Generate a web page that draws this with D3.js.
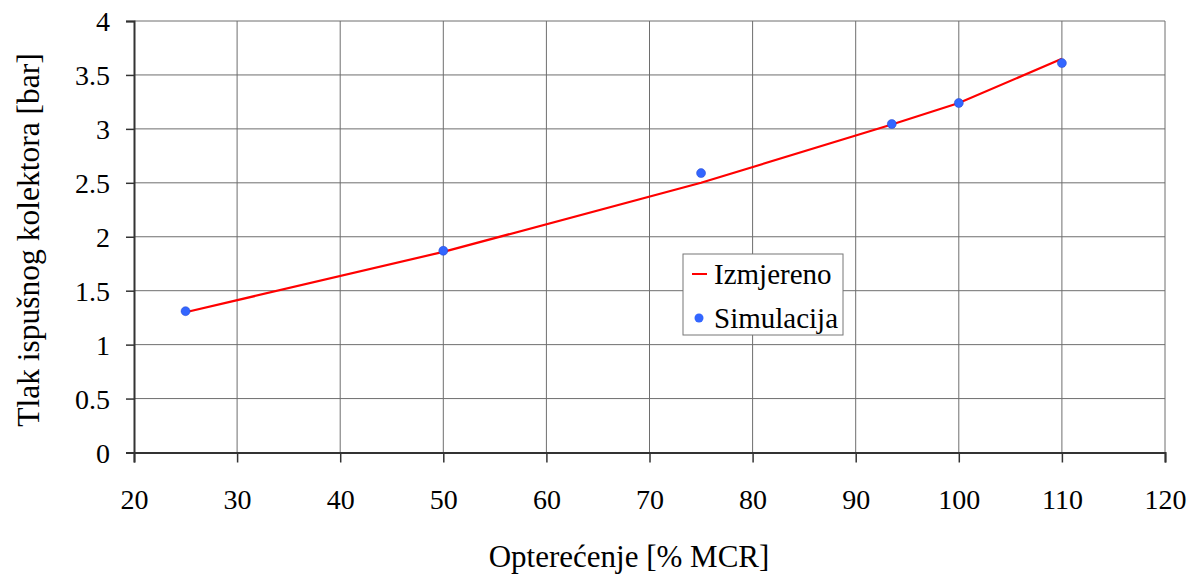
<!DOCTYPE html>
<html><head><meta charset="utf-8">
<script src="https://cdn.jsdelivr.net/npm/d3@7"></script>
<style>body{margin:0;background:#fff}svg{display:block}text{font-family:"Liberation Serif","Times New Roman",serif;fill:#000}</style>
</head><body><svg id="c" width="1197" height="577"></svg>
<script>
const measuredX = [25, 50, 75, 93.5, 100, 110];
const measuredY = [1.30, 1.86, 2.50, 3.04, 3.24, 3.65];
const simX = [25, 50, 75, 93.5, 100, 110];
const simY = [1.31, 1.87, 2.59, 3.045, 3.24, 3.61];
const xTicks = [20, 30, 40, 50, 60, 70, 80, 90, 100, 110, 120];
const yTicks = [0, 0.5, 1, 1.5, 2, 2.5, 3, 3.5, 4];
const seriesNames = ["Izmjereno", "Simulacija"];

const svg = d3.select("#c");
const FONT = '"Liberation Serif","Times New Roman",serif';
const L = 134, R = 1165, T = 21, B = 452.5;
const x = d3.scaleLinear().domain([20, 120]).range([L, R]);
const y = d3.scaleLinear().domain([0, 4]).range([B, T]);

// grid
svg.append("g").selectAll("line").data(xTicks.slice(1)).join("line")
  .attr("x1", d => x(d)).attr("x2", d => x(d)).attr("y1", T).attr("y2", B)
  .attr("stroke", "#6e6e6e").attr("stroke-width", 1);
svg.append("g").selectAll("line").data(yTicks.slice(1)).join("line")
  .attr("x1", L).attr("x2", R).attr("y1", d => y(d)).attr("y2", d => y(d))
  .attr("stroke", "#6e6e6e").attr("stroke-width", 1);

// axes
const xa = svg.append("g").attr("transform", `translate(0,${B})`)
  .call(d3.axisBottom(x).tickValues(xTicks).tickSize(10).tickPadding(27).tickFormat(d3.format("d")));
const ya = svg.append("g").attr("transform", `translate(${L},0)`)
  .call(d3.axisLeft(y).tickValues(yTicks).tickSize(8).tickPadding(16).tickFormat(d => String(d)));
[xa, ya].forEach(a => {
  a.attr("font-family", FONT).attr("font-size", 28);
  a.select(".domain").attr("stroke", "#333").attr("stroke-width", 2);
  a.selectAll(".tick line").attr("stroke", "#333").attr("stroke-width", 1.5);
  a.selectAll("text").attr("fill", "#000");
});
ya.selectAll("text").attr("dy", "0.34em");

// line
svg.append("path")
  .datum(measuredX.map((d, i) => [d, measuredY[i]]))
  .attr("fill", "none").attr("stroke", "#ff0000").attr("stroke-width", 2.2)
  .attr("d", d3.line().x(d => x(d[0])).y(d => y(d[1])));

// points
svg.append("g").selectAll("circle").data(simX.map((d, i) => [d, simY[i]])).join("circle")
  .attr("cx", d => x(d[0])).attr("cy", d => y(d[1])).attr("r", 4.5)
  .attr("fill", "#3366ff").attr("stroke", "#2244cc").attr("stroke-width", 0.5);

// axis titles
svg.append("text").attr("x", 629).attr("y", 567).attr("text-anchor", "middle")
  .style("font-size", "31px").text("Opterećenje [% MCR]");
svg.append("text").attr("transform", `translate(39,${240}) rotate(-90)`).attr("text-anchor", "middle")
  .style("font-size", "31.5px").text("Tlak ispušnog kolektora [bar]");

// legend
const lg = svg.append("g").attr("transform", "translate(683,254)");
lg.append("rect").attr("width", 160).attr("height", 81).attr("fill", "#fff").attr("stroke", "#777").attr("stroke-width", 1);
lg.append("line").attr("x1", 9).attr("x2", 24).attr("y1", 20).attr("y2", 20).attr("stroke", "#ff0000").attr("stroke-width", 2);
lg.append("circle").attr("cx", 16).attr("cy", 64).attr("r", 4.5).attr("fill", "#3366ff");
lg.append("text").attr("x", 31).attr("y", 30).style("font-size", "29px").text(seriesNames[0]);
lg.append("text").attr("x", 31).attr("y", 74).style("font-size", "29px").text(seriesNames[1]);
</script></body></html>
